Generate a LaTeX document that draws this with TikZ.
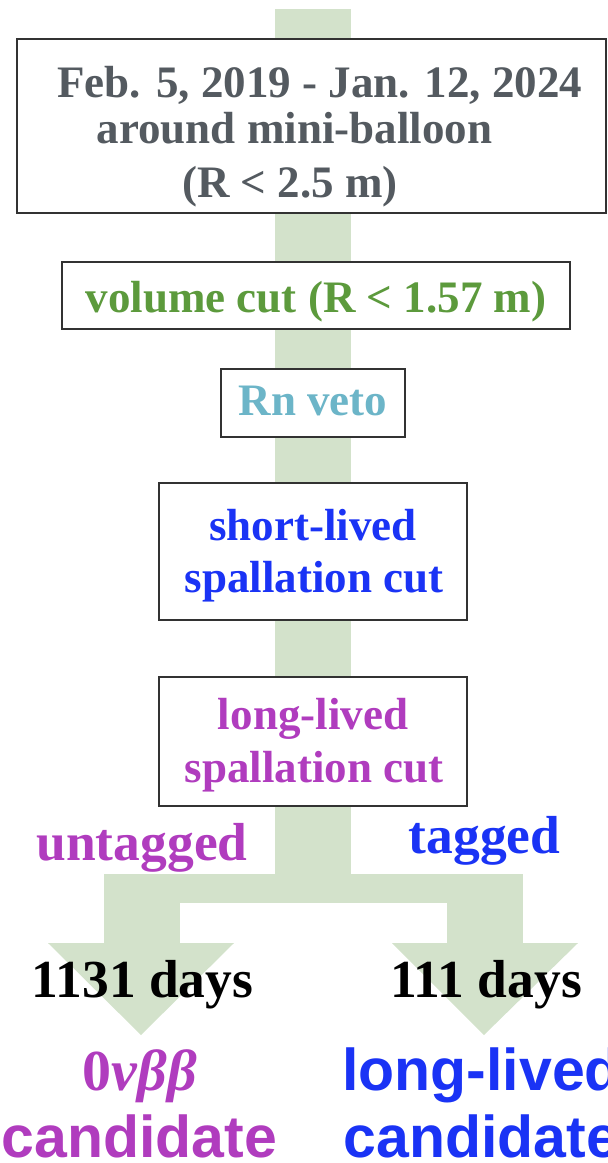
\documentclass[tikz,border=0pt]{standalone}
\usepackage{fontspec}
\setmainfont{Liberation Serif}
\setsansfont{Liberation Sans}
\definecolor{flowgreen}{RGB}{211,226,203}
\definecolor{graytxt}{RGB}{84,90,96}
\definecolor{greentxt}{RGB}{92,154,60}
\definecolor{tealtxt}{RGB}{108,181,200}
\definecolor{bluetxt}{RGB}{26,51,245}
\definecolor{purpletxt}{RGB}{176,60,190}
\definecolor{boxline}{RGB}{50,50,50}
\begin{document}
\begin{tikzpicture}[x=1pt,y=-1pt,
  flow/.style={fill=flowgreen},
  cutbox/.style={draw=boxline, line width=1.4pt, fill=white, inner sep=0pt},
  serifbig/.style={font=\fontsize{45}{54}\selectfont\bfseries, anchor=base, inner sep=0pt},
  labelbig/.style={font=\fontsize{53.5}{64}\selectfont\bfseries, anchor=base, inner sep=0pt},
  sansbig/.style={font=\fontsize{59}{70}\selectfont\sffamily\bfseries, anchor=base, inner sep=0pt}]
\useasboundingbox (0,0) rectangle (608,1163);
% flow connectors
\coordinate (top) at (313,9);
\coordinate (split) at (313,874);
\fill[flow] (275,9) rectangle (351,875);
\fill[flow] (104,874) rectangle (523,903);
\fill[flow] (104,902) rectangle (180,944);
\fill[flow] (447,902) rectangle (523,944);
\fill[flow] (48,943) -- (234,943) -- (141,1035) -- cycle;
\fill[flow] (392,943) -- (578,943) -- (484,1035) -- cycle;
% boxes
\node[cutbox, minimum width=589, minimum height=174] (b1) at (311.5,126) {};
\node[cutbox, minimum width=508, minimum height=67] (b2) at (316,295.5) {};
\node[cutbox, minimum width=184, minimum height=68] (b3) at (313,403) {};
\node[cutbox, minimum width=308, minimum height=137] (b4) at (313,551.5) {};
\node[cutbox, minimum width=308, minimum height=129] (b5) at (313,741.5) {};
% texts
\node[serifbig, text=graytxt] (t1a) at (320,97) {Feb. 5, 2019 - Jan. 12, 2024};
\node[serifbig, text=graytxt] (t1b) at (294.5,143) {around mini-balloon};
\node[serifbig, text=graytxt] (t1c) at (290,197) {(R < 2.5 m)};
\node[serifbig, text=greentxt] (t2) at (316,312) {volume cut (R < 1.57 m)};
\node[serifbig, text=tealtxt] (t3) at (313,415) {Rn veto};
\node[serifbig, text=bluetxt] (t4a) at (313,540) {short-lived};
\node[serifbig, text=bluetxt] (t4b) at (314,592) {spallation cut};
\node[serifbig, text=purpletxt] (t5a) at (313,729) {long-lived};
\node[serifbig, text=purpletxt] (t5b) at (314,782) {spallation cut};
\node[labelbig, text=purpletxt] (untag) at (142,860) {untagged};
\node[labelbig, text=bluetxt] (tag) at (484.5,853) {tagged};
\node[labelbig, text=black] (d1) at (142.5,997) {1131 days};
\node[labelbig, text=black] (d2) at (486,997) {111 days};
\node[labelbig, text=purpletxt, font=\fontsize{58}{68}\selectfont\bfseries] (sig) at (140,1090) {0\textit{νββ}};
\node[sansbig, text=purpletxt] (cand1) at (139.5,1157) {candidate};
\node[sansbig, text=bluetxt] (ll) at (481.5,1090) {long-lived};
\node[sansbig, text=bluetxt] (cand2) at (481.5,1157) {candidate};
\end{tikzpicture}
\end{document}
